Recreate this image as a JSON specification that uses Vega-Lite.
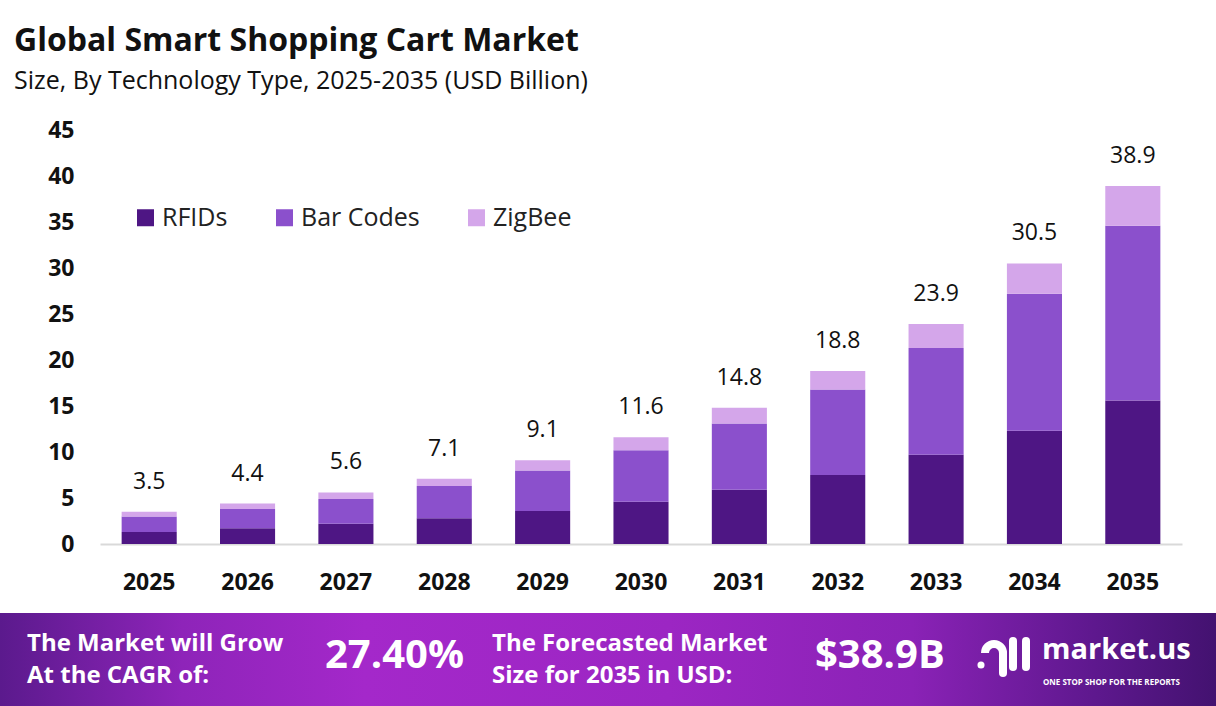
{
  "$schema": "https://vega.github.io/schema/vega-lite/v6.json",
  "background": "white",
  "padding": {"left": 0, "right": 0, "top": 25, "bottom": 0},
  "autosize": {"type": "pad"},
  "config": {"view": {"stroke": null}, "font": "Open Sans"},
  "title": {
    "text": "Global Smart Shopping Cart Market",
    "subtitle": "Size, By Technology Type, 2025-2035 (USD Billion)",
    "anchor": "start",
    "frame": "bounds",
    "dx": 14,
    "font": "Open Sans",
    "fontSize": 32,
    "fontWeight": "bold",
    "color": "#111111",
    "subtitleFont": "Open Sans",
    "subtitleFontSize": 25,
    "subtitleColor": "#111111",
    "subtitlePadding": 11,
    "offset": 24
  },
  "datasets": {
    "segments": [
      {"year": "2025", "tech": "RFIDs", "value": 1.3, "order": 1},
      {"year": "2025", "tech": "Bar Codes", "value": 1.7, "order": 2},
      {"year": "2025", "tech": "ZigBee", "value": 0.5, "order": 3},
      {"year": "2026", "tech": "RFIDs", "value": 1.7, "order": 1},
      {"year": "2026", "tech": "Bar Codes", "value": 2.1, "order": 2},
      {"year": "2026", "tech": "ZigBee", "value": 0.6, "order": 3},
      {"year": "2027", "tech": "RFIDs", "value": 2.2, "order": 1},
      {"year": "2027", "tech": "Bar Codes", "value": 2.7, "order": 2},
      {"year": "2027", "tech": "ZigBee", "value": 0.7, "order": 3},
      {"year": "2028", "tech": "RFIDs", "value": 2.8, "order": 1},
      {"year": "2028", "tech": "Bar Codes", "value": 3.5, "order": 2},
      {"year": "2028", "tech": "ZigBee", "value": 0.8, "order": 3},
      {"year": "2029", "tech": "RFIDs", "value": 3.6, "order": 1},
      {"year": "2029", "tech": "Bar Codes", "value": 4.4, "order": 2},
      {"year": "2029", "tech": "ZigBee", "value": 1.1, "order": 3},
      {"year": "2030", "tech": "RFIDs", "value": 4.6, "order": 1},
      {"year": "2030", "tech": "Bar Codes", "value": 5.6, "order": 2},
      {"year": "2030", "tech": "ZigBee", "value": 1.4, "order": 3},
      {"year": "2031", "tech": "RFIDs", "value": 5.9, "order": 1},
      {"year": "2031", "tech": "Bar Codes", "value": 7.2, "order": 2},
      {"year": "2031", "tech": "ZigBee", "value": 1.7, "order": 3},
      {"year": "2032", "tech": "RFIDs", "value": 7.5, "order": 1},
      {"year": "2032", "tech": "Bar Codes", "value": 9.3, "order": 2},
      {"year": "2032", "tech": "ZigBee", "value": 2.0, "order": 3},
      {"year": "2033", "tech": "RFIDs", "value": 9.7, "order": 1},
      {"year": "2033", "tech": "Bar Codes", "value": 11.6, "order": 2},
      {"year": "2033", "tech": "ZigBee", "value": 2.6, "order": 3},
      {"year": "2034", "tech": "RFIDs", "value": 12.3, "order": 1},
      {"year": "2034", "tech": "Bar Codes", "value": 14.9, "order": 2},
      {"year": "2034", "tech": "ZigBee", "value": 3.3, "order": 3},
      {"year": "2035", "tech": "RFIDs", "value": 15.6, "order": 1},
      {"year": "2035", "tech": "Bar Codes", "value": 19.0, "order": 2},
      {"year": "2035", "tech": "ZigBee", "value": 4.3, "order": 3}
    ],
    "totals": [
      {"year": "2025", "total": 3.5},
      {"year": "2026", "total": 4.4},
      {"year": "2027", "total": 5.6},
      {"year": "2028", "total": 7.1},
      {"year": "2029", "total": 9.1},
      {"year": "2030", "total": 11.6},
      {"year": "2031", "total": 14.8},
      {"year": "2032", "total": 18.8},
      {"year": "2033", "total": 23.9},
      {"year": "2034", "total": 30.5},
      {"year": "2035", "total": 38.9}
    ],
    "banner": [{"x": 0, "x2": 1216, "y": 0, "y2": 94}],
    "bannerText": [
      {"group": "label", "x": 27, "y": 38, "label": "The Market will Grow\nAt the CAGR of:"},
      {"group": "label", "x": 492, "y": 38, "label": "The Forecasted Market\nSize for 2035 in USD:"},
      {"group": "big", "x": 325, "y": 55, "label": "27.40%"},
      {"group": "big", "x": 815, "y": 55, "label": "$38.9B"},
      {"group": "brand", "x": 1042, "y": 46, "label": "market.us"},
      {"group": "tagline", "x": 1043, "y": 72, "label": "ONE STOP SHOP FOR THE REPORTS"}
    ],
    "logoBars": [
      {"x": 1013, "y": 28, "y2": 54},
      {"x": 1026, "y": 28, "y2": 54},
      {"x": 1003, "y": 40, "y2": 60}
    ],
    "logoArc": [{"x": 994, "y": 40}],
    "logoDot": [{"x": 981, "y": 52}]
  },
  "spacing": 19,
  "vconcat": [
    {
      "width": 1082,
      "height": 414,
      "layer": [
        {
          "data": {"name": "segments"},
          "mark": {"type": "bar"},
          "encoding": {
            "x": {
              "field": "year",
              "type": "ordinal",
              "scale": {"paddingInner": 0.44, "paddingOuter": 0.22},
              "axis": {
                "title": null,
                "labelAngle": 0,
                "labelFont": "Open Sans",
                "labelFontSize": 23,
                "labelFontWeight": "bold",
                "labelColor": "#111111",
                "ticks": false,
                "labelPadding": 27,
                "domainColor": "#d9d9d9",
                "domainWidth": 2
              }
            },
            "y": {
              "field": "value",
              "type": "quantitative",
              "stack": "zero",
              "scale": {"domain": [0, 45], "nice": false},
              "axis": {
                "title": null,
                "values": [0, 5, 10, 15, 20, 25, 30, 35, 40, 45],
                "domain": false,
                "grid": false,
                "ticks": false,
                "labelPadding": 26,
                "labelFont": "Open Sans",
                "labelFontSize": 23,
                "labelFontWeight": "bold",
                "labelColor": "#111111",
                "minExtent": 100
              }
            },
            "color": {
              "field": "tech",
              "type": "nominal",
              "scale": {
                "domain": ["RFIDs", "Bar Codes", "ZigBee"],
                "range": ["#4E1684", "#8B50CC", "#D4A6EA"]
              },
              "legend": {
                "title": null,
                "orient": "none",
                "legendX": 33,
                "legendY": 75,
                "direction": "horizontal",
                "columnPadding": 44,
                "symbolType": "square",
                "symbolSize": 289,
                "symbolStrokeWidth": 0,
                "labelFont": "Open Sans",
                "labelFontSize": 25,
                "labelColor": "#222222",
                "labelOffset": 4,
                "padding": 0
              }
            },
            "order": {"field": "order", "type": "quantitative"}
          }
        },
        {
          "data": {"name": "totals"},
          "mark": {"type": "text", "baseline": "alphabetic", "dy": -23, "fontSize": 23, "font": "Open Sans", "color": "#111111"},
          "encoding": {
            "x": {"field": "year", "type": "ordinal"},
            "y": {"field": "total", "type": "quantitative"},
            "text": {"field": "total", "type": "quantitative", "format": ".1f"}
          }
        }
      ]
    },
    {
      "width": 1116,
      "height": 94,
      "encoding": {
        "x": {"field": "x", "type": "quantitative", "scale": {"domain": [100, 1216], "nice": false, "zero": false}, "axis": null},
        "y": {"field": "y", "type": "quantitative", "scale": {"domain": [94, 0], "nice": false, "zero": false}, "axis": null}
      },
      "layer": [
        {
          "data": {"name": "banner"},
          "mark": {
            "type": "rect",
            "fill": {
              "gradient": "linear",
              "x1": 0, "x2": 1, "y1": 0, "y2": 0,
              "stops": [
                {"offset": 0, "color": "#5B1A8D"},
                {"offset": 0.15, "color": "#8E24B9"},
                {"offset": 0.3, "color": "#A428CA"},
                {"offset": 0.55, "color": "#9C26C3"},
                {"offset": 0.75, "color": "#8A22B6"},
                {"offset": 0.9, "color": "#5E188E"},
                {"offset": 1, "color": "#431270"}
              ]
            }
          },
          "encoding": {"x2": {"field": "x2"}, "y2": {"field": "y2"}}
        },
        {
          "data": {"name": "bannerText"},
          "transform": [{"filter": "datum.group === 'label'"}],
          "mark": {"type": "text", "align": "left", "baseline": "alphabetic", "font": "Open Sans", "fontWeight": "bold", "fontSize": 24, "color": "white", "lineBreak": "\n", "lineHeight": 32},
          "encoding": {"text": {"field": "label"}}
        },
        {
          "data": {"name": "bannerText"},
          "transform": [{"filter": "datum.group === 'big'"}],
          "mark": {"type": "text", "align": "left", "baseline": "alphabetic", "font": "Open Sans", "fontWeight": "bold", "fontSize": 40, "color": "white"},
          "encoding": {"text": {"field": "label"}}
        },
        {
          "data": {"name": "bannerText"},
          "transform": [{"filter": "datum.group === 'brand'"}],
          "mark": {"type": "text", "align": "left", "baseline": "alphabetic", "font": "Open Sans", "fontWeight": "bold", "fontSize": 29, "color": "white"},
          "encoding": {"text": {"field": "label"}}
        },
        {
          "data": {"name": "bannerText"},
          "transform": [{"filter": "datum.group === 'tagline'"}],
          "mark": {"type": "text", "align": "left", "baseline": "alphabetic", "font": "Open Sans", "fontWeight": "bold", "fontSize": 8, "letterSpacing": 1.8, "color": "white"},
          "encoding": {"text": {"field": "label"}}
        },
        {
          "data": {"name": "logoBars"},
          "mark": {"type": "rule", "color": "white", "strokeWidth": 8, "strokeCap": "round"},
          "encoding": {"y2": {"field": "y2"}}
        },
        {
          "data": {"name": "logoArc"},
          "mark": {"type": "arc", "color": "white", "theta": -1.5708, "theta2": 1.5708, "radius": 13, "radius2": 5},
          "encoding": {}
        },
        {
          "data": {"name": "logoDot"},
          "mark": {"type": "circle", "color": "white", "opacity": 1, "size": 50},
          "encoding": {}
        }
      ]
    }
  ]
}
